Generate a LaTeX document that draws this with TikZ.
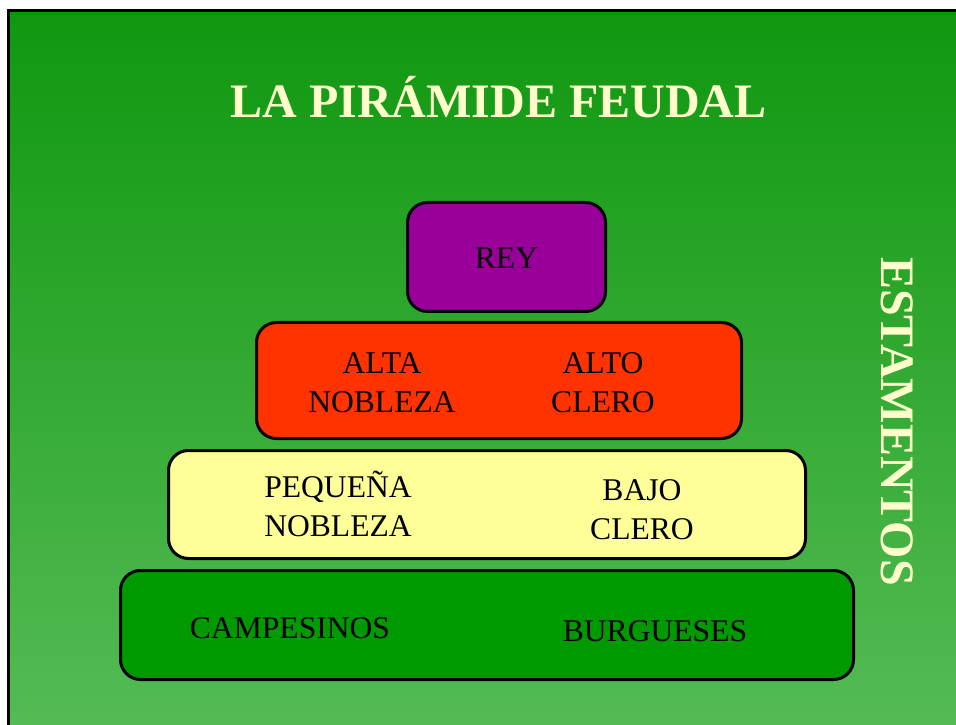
\documentclass[tikz,border=0pt]{standalone}
\usepackage{fontspec}
\setmainfont{Liberation Serif}
\usepackage{tikz}
\definecolor{rey}{HTML}{990099}
\definecolor{alta}{HTML}{FF3300}
\definecolor{baja}{HTML}{FFFF99}
\definecolor{pueblo}{HTML}{009900}
\definecolor{crema}{HTML}{FFFFCC}
\definecolor{fondoarriba}{HTML}{109810}
\definecolor{fondoabajo}{HTML}{55BB55}

\begin{document}
\begin{tikzpicture}[x=1pt, y=1pt,
    escalon/.style={draw=black, line width=3pt, rounded corners=20pt, inner sep=0pt},
    texto/.style={align=center, anchor=base, font=\fontsize{31.6}{38.5}\selectfont},
    titulo/.style={text=crema, font=\fontsize{48}{57}\selectfont\bfseries}]
        \useasboundingbox (0, 0) rectangle (956, 724);
        \fill [white] (0, 0) rectangle (956, 724);
        \shade [top color=fondoarriba, bottom color=fondoabajo] (8.5, -4) rectangle (960, 713.5);
        \fill [pueblo] (8.5, 709) rectangle (960, 713.5);
        \draw [line width=3pt] (8.5, -4) -- (8.5, 713.5) -- (960, 713.5);
        \node [escalon, fill=rey, minimum width=198, minimum height=109] (rey) at (506.5, 467) {};
        \node [escalon, fill=alta, minimum width=485, minimum height=116] (nobles) at (499, 343.5) {};
        \node [escalon, fill=baja, minimum width=637, minimum height=108] (pequena) at (487, 219.5) {};
        \node [escalon, fill=pueblo, minimum width=733, minimum height=109] (pueblo) at (487, 99) {};
        \node [titulo, anchor=base] (titulo) at (498.5, 606) {LA PIRÁMIDE FEUDAL};
        \node [titulo, rotate=-90] (estamentos) at (897, 302.5) {ESTAMENTOS};
        \node [texto] (reytxt) at (506.5, 455) {REY};
        \node [texto] (altanobleza) at (382, 312) {ALTA\\NOBLEZA};
        \node [texto] (altoclero) at (603, 312) {ALTO\\CLERO};
        \node [texto] (pequenanobleza) at (338, 188) {PEQUEÑA\\NOBLEZA};
        \node [texto] (bajoclero) at (642, 185) {BAJO\\CLERO};
        \node [texto] (campesinos) at (290, 86) {CAMPESINOS};
        \node [texto] (burgueses) at (655, 83) {BURGUESES};
      \end{tikzpicture}
\end{document}
